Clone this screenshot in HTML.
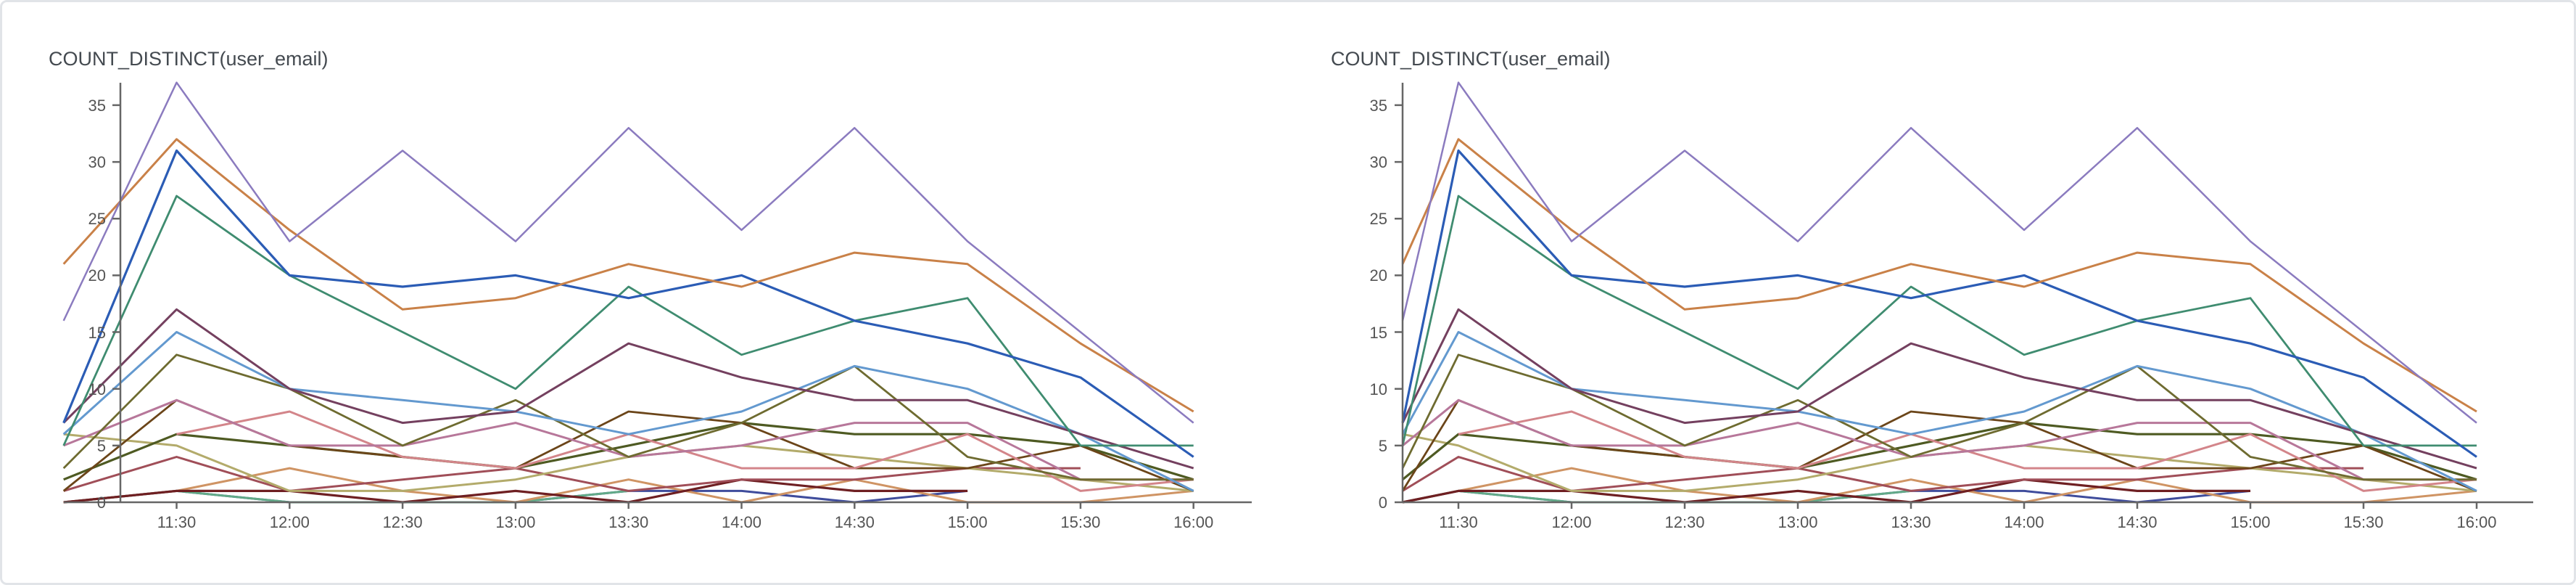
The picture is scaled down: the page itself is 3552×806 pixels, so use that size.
<!DOCTYPE html>
<html><head><meta charset="utf-8"><style>
html,body{margin:0;padding:0;background:#fff;}
svg{display:block;}
text{font-family:"Liberation Sans",sans-serif;}
</style></head><body>
<svg id="s" width="3552" height="806" viewBox="0 0 3552 806" xmlns="http://www.w3.org/2000/svg">
<rect x="1.5" y="1.5" width="3549" height="803" rx="8" fill="#fff" stroke="#e1e4e8" stroke-width="3"/>
<g font-size="27" fill="#444a50">
<text x="67" y="90">COUNT_DISTINCT(user_email)</text>
<text x="1835" y="90">COUNT_DISTINCT(user_email)</text>
</g>
<g id="lines"></g>
<g id="axes" stroke="#666" stroke-width="2.5" fill="none"></g>
<g font-size="22" fill="#555" text-anchor="end">
<text x="146" y="700">0</text><text x="146" y="622">5</text><text x="146" y="544">10</text><text x="146" y="466">15</text><text x="146" y="387">20</text><text x="146" y="309">25</text><text x="146" y="231">30</text><text x="146" y="153">35</text>
<text x="1913" y="700">0</text><text x="1913" y="622">5</text><text x="1913" y="544">10</text><text x="1913" y="466">15</text><text x="1913" y="387">20</text><text x="1913" y="309">25</text><text x="1913" y="231">30</text><text x="1913" y="153">35</text>
</g>
<g font-size="22" fill="#555" text-anchor="middle">
<text x="243.5" y="727">11:30</text><text x="399.3" y="727">12:00</text><text x="555.1" y="727">12:30</text><text x="710.9" y="727">13:00</text><text x="866.7" y="727">13:30</text><text x="1022.5" y="727">14:00</text><text x="1178.3" y="727">14:30</text><text x="1334.1" y="727">15:00</text><text x="1489.9" y="727">15:30</text><text x="1645.7" y="727">16:00</text>
<text x="2011" y="727">11:30</text><text x="2167" y="727">12:00</text><text x="2323" y="727">12:30</text><text x="2479" y="727">13:00</text><text x="2635" y="727">13:30</text><text x="2791" y="727">14:00</text><text x="2947" y="727">14:30</text><text x="3103" y="727">15:00</text><text x="3259" y="727">15:30</text><text x="3415" y="727">16:00</text>
</g>
</svg>
<script>
var N=null;
var S=[
["#8b7bbf",2.5,[16,37,23,31,23,33,24,33,23,15,7]],
["#c98148",3,[21,32,24,17,18,21,19,22,21,14,8]],
["#2b5cb5",3.2,[7,31,20,19,20,18,20,16,14,11,4]],
["#3f8c70",2.8,[5,27,20,15,10,19,13,16,18,5,5]],
["#74405f",3,[7,17,10,7,8,14,11,9,9,6,3]],
["#6399cf",3,[6,15,10,9,8,6,8,12,10,6,1]],
["#6e6b30",2.8,[3,13,10,5,9,4,7,12,4,2,2]],
["#b7779a",3,[5,9,5,5,7,4,5,7,7,2,2]],
["#d3858a",3,[N,6,8,4,3,6,3,3,6,1,2]],
["#6b4519",2.8,[1,9,5,4,3,8,7,3,3,5,1]],
["#4e5a22",3.2,[2,6,5,4,3,5,7,6,6,5,2]],
["#b3ab6b",3,[6,5,1,1,2,4,5,4,3,2,1]],
["#a04e58",3,[1,4,1,2,3,1,2,2,3,3,N]],
["#6e1f22",3.2,[0,1,1,0,1,0,2,1,1,N,N]],
["#cf9464",3,[0,1,3,1,0,2,0,2,0,0,1]],
["#62aa88",3,[0,1,0,0,0,1,N,N,N,N,N]],
["#3f4c9c",3,[0,1,0,0,0,1,1,0,1,N,N]]
];
var ns="http://www.w3.org/2000/svg";
function Y(v){return 692-v*15.63;}
var XL=function(i){return 87.7+155.8*i;};
var XR=function(i){return i==0?1934:2011+156*(i-1);};
var g=document.getElementById("lines");
[XL,XR].forEach(function(X){
 for(var k=S.length-1;k>=0;k--){var s=S[k];var seg=[];
  function flush(){if(seg.length>1){var p=document.createElementNS(ns,"polyline");p.setAttribute("points",seg.join(" "));p.setAttribute("fill","none");p.setAttribute("stroke",s[0]);p.setAttribute("stroke-width",s[1]);p.setAttribute("stroke-linejoin","round");g.appendChild(p);}seg=[];}
  s[2].forEach(function(v,i){if(v===N){flush();}else seg.push(X(i).toFixed(1)+","+Y(v).toFixed(1));});flush();}
});
var a=document.getElementById("axes");var d="";
[[166,88,1726,XL],[1934,1934,3493,XR]].forEach(function(c){
 var ax=c[0];d+="M"+ax+",114V692M"+c[1]+",692H"+c[2];
 for(var t=0;t<=35;t+=5){d+="M"+(ax-11)+","+Y(t).toFixed(1)+"H"+ax;}
 for(var i=1;i<=10;i++){d+="M"+c[3](i).toFixed(1)+",692V701";}
});
var p=document.createElementNS(ns,"path");p.setAttribute("d",d);a.appendChild(p);
</script>
</body></html>
